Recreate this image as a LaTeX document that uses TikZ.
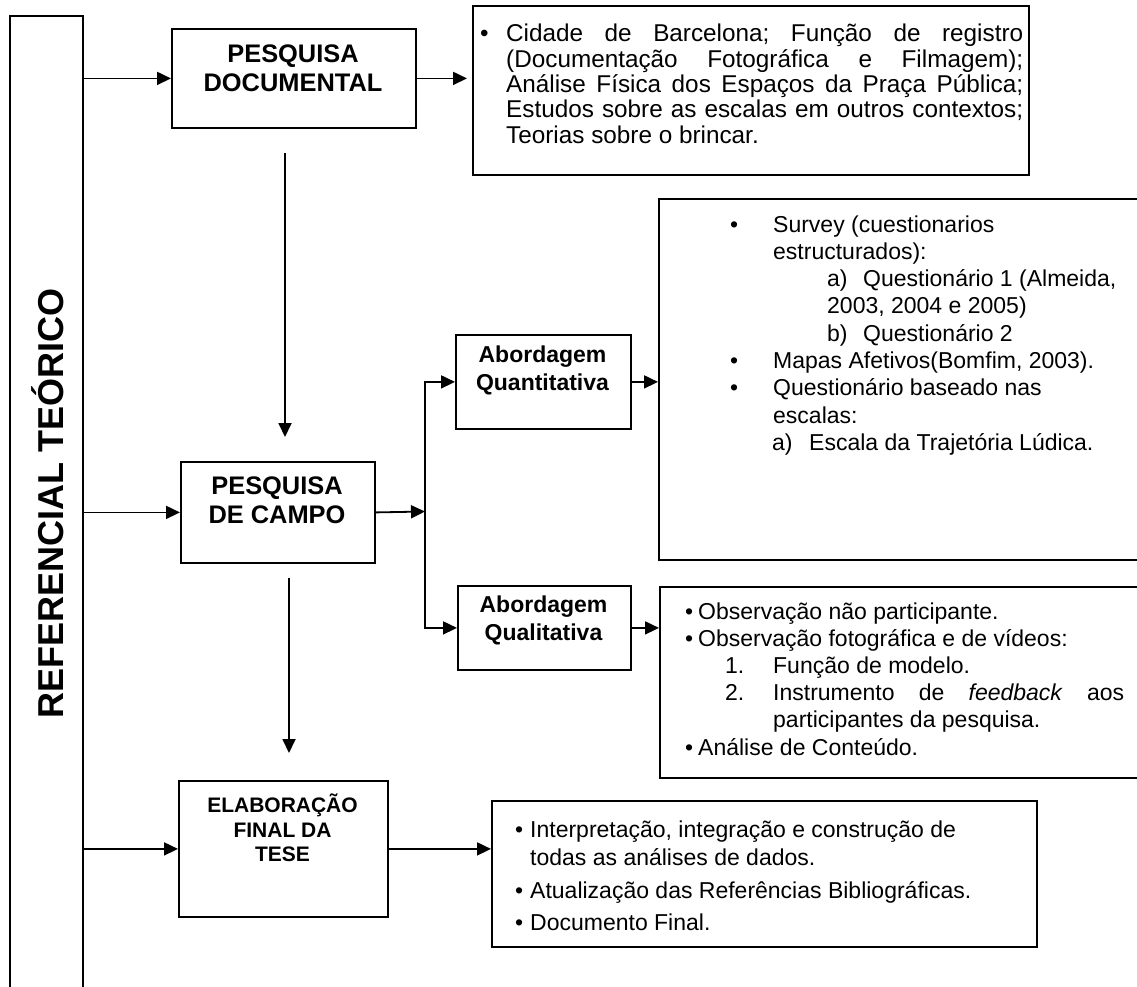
\documentclass[tikz,border=0pt]{standalone}
\usepackage{fontspec}
\setmainfont{Liberation Sans}
\usetikzlibrary{arrows.meta}
\frenchspacing
\tikzset{
  boxed/.style={draw, line width=1.8pt, rectangle, inner sep=0pt, anchor=north west},
  arr/.style={-{Triangle[length=14pt,width=13pt]}, line width=1.8pt},
  ttl/.style={inner sep=0pt, align=center, anchor=south,
    font=\bfseries\fontsize{25.4pt}{29pt}\selectfont},
  ttlsmall/.style={ttl, font=\bfseries\fontsize{23pt}{28pt}\selectfont},
  body/.style={inner sep=0pt, anchor=base west},
}
\begin{document}
\begin{tikzpicture}[x=1pt,y=-1pt]
\useasboundingbox (0,0) rectangle (1137,986);
\clip (0,0) rectangle (1137,986);

% side column
\node[boxed, minimum width=73pt, minimum height=1010pt] (ref) at (9,15) {};
\node[rotate=90, anchor=base, inner sep=0pt,
      font=\bfseries\fontsize{36pt}{40pt}\selectfont] (reft) at (63,503) {REFERENCIAL TEÓRICO};

% stage boxes
\node[boxed, minimum width=244pt, minimum height=99pt] (docbox) at (171,28) {};
\node[ttl] (doct) at (293,92) {PESQUISA\\DOCUMENTAL};

\node[boxed, minimum width=194pt, minimum height=101pt] (campo) at (180,461) {};
\node[ttl] (campot) at (277,524) {PESQUISA\\DE CAMPO};

\node[boxed, minimum width=175pt, minimum height=94pt] (quant) at (455,334) {};
\node[ttlsmall] (quantt) at (542.5,395) {Abordagem\\Quantitativa};

\node[boxed, minimum width=173pt, minimum height=84pt] (qual) at (457,585) {};
\node[ttlsmall] (qualt) at (543.5,645) {Abordagem\\Qualitativa};

\node[boxed, minimum width=209pt, minimum height=136pt] (elab) at (178,780) {};
\node[ttl, font=\bfseries\fontsize{21pt}{24.5pt}\selectfont] (elabt) at (282.5,862)
  {ELABORAÇÃO\\FINAL DA\\TESE};

% description boxes
\node[boxed, minimum width=556pt, minimum height=169pt] (dtbox) at (472,5) {};
\node[body] (dtext) at (480,41.7) {\begin{minipage}[t]{560pt}%
\setlength\parindent{0pt}\fontsize{24.3pt}{25.4pt}\selectfont
\makebox[26pt][l]{•}\makebox[517pt][s]{Cidade de Barcelona; Função de registro}\par
\hspace*{26pt}\makebox[517pt][s]{(Documentação Fotográfica e Filmagem);}\par
\hspace*{26pt}\makebox[517pt][s]{Análise Física dos Espaços da Praça Pública;}\par
\hspace*{26pt}\makebox[517pt][s]{Estudos sobre as escalas em outros contextos;}\par
\hspace*{26pt}Teorias sobre o brincar.\par
\end{minipage}};

\node[boxed, minimum width=520pt, minimum height=361pt] (survey) at (658,198) {};
\node[body] (stext) at (730,232) {\begin{minipage}[t]{430pt}%
\setlength\parindent{0pt}\fontsize{23pt}{27.3pt}\selectfont
\makebox[43pt][l]{•}Survey (cuestionarios\par
\hspace*{43pt}estructurados):\par
\hspace*{97pt}\makebox[36pt][l]{a)}Questionário 1 (Almeida,\par
\hspace*{97pt}2003, 2004 e 2005)\par
\hspace*{97pt}\makebox[36pt][l]{b)}Questionário 2\par
\makebox[43pt][l]{•}Mapas Afetivos(Bomfim, 2003).\par
\makebox[43pt][l]{•}Questionário baseado nas\par
\hspace*{43pt}escalas:\par
\hspace*{42pt}\makebox[37pt][l]{a)}Escala da Trajetória Lúdica.\par
\end{minipage}};

\node[boxed, minimum width=520pt, minimum height=191pt] (qtbox) at (659,586) {};
\node[body] (qtext) at (685,619) {\begin{minipage}[t]{460pt}%
\setlength\parindent{0pt}\fontsize{23pt}{27.2pt}\selectfont
\makebox[13pt][l]{•}Observação não participante.\par
\makebox[13pt][l]{•}Observação fotográfica e de vídeos:\par
\hspace*{40pt}\makebox[48pt][l]{1.}Função de modelo.\par
\hspace*{40pt}\makebox[48pt][l]{2.}\makebox[351pt][s]{Instrumento de \textit{feedback} aos}\par
\hspace*{88pt}participantes da pesquisa.\par
\makebox[13pt][l]{•}Análise de Conteúdo.\par
\end{minipage}};

\node[boxed, minimum width=545pt, minimum height=146pt] (etbox) at (491,800) {};
\node[body] (etext) at (515,837) {\begin{minipage}[t]{520pt}%
\setlength\parindent{0pt}\fontsize{23pt}{28pt}\selectfont
\makebox[15pt][l]{•}Interpretação, integração e construção de\par
\hspace*{15pt}todas as análises de dados.\par
\vspace{5pt}
\makebox[15pt][l]{•}Atualização das Referências Bibliográficas.\par
\vspace{4pt}
\makebox[15pt][l]{•}Documento Final.\par
\end{minipage}};

% connectors
\coordinate (d1s) at (285,153);
\coordinate (d1e) at (285,437);
\coordinate (d2s) at (289,578);
\coordinate (d2e) at (289,753);
\coordinate (split) at (425,511.5);

\draw[arr] (ref.east |- docbox.west) -- (docbox.west);
\draw[arr, shorten >=5pt] (docbox.east) -- (docbox.east -| dtbox.west);
\draw[arr] (d1s) -- (d1e);
\draw[arr] (ref.east |- campo.west) -- (campo.west);
\draw[arr] (campo.east) -- (split);
\draw[arr] (split) |- (quant.west);
\draw[arr] (split) |- (qual.west);
\draw[arr] (quant.east) -- (quant.east -| survey.west);
\draw[arr] (qual.east) -- (qual.east -| qtbox.west);
\draw[arr] (d2s) -- (d2e);
\draw[arr] (ref.east |- elab.west) -- (elab.west);
\draw[arr] (elab.east) -- (elab.east -| etbox.west);
\end{tikzpicture}
\end{document}
